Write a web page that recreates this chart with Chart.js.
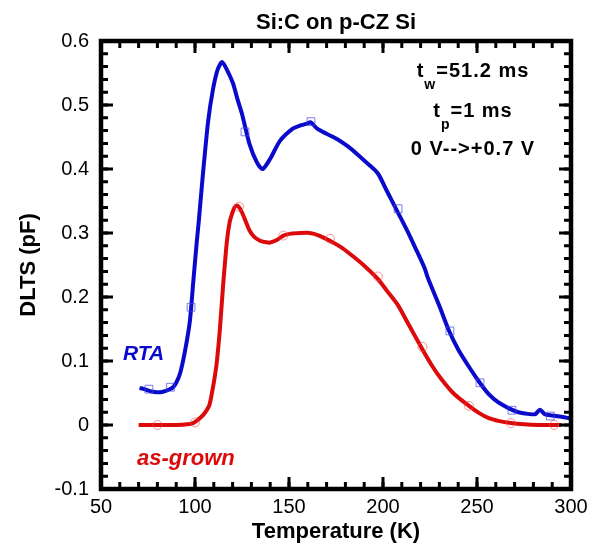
<!DOCTYPE html>
<html>
<head>
<meta charset="utf-8">
<script src="https://cdn.jsdelivr.net/npm/chart.js@4/dist/chart.umd.min.js"></script>
<style>
  html, body { margin: 0; padding: 0; background: #fff; }
  #wrap { width: 603px; height: 543px; }
</style>
</head>
<body>
<div id="wrap"><canvas id="dlts" width="603" height="543"></canvas></div>
<script>
// RTA sample, continuous scan (K, pF)
const rtaT = [70.5, 73, 76, 80, 83, 86, 88.3, 90, 92, 94.7, 97.3, 99, 101, 102, 104, 107, 109.6, 112, 114.4, 117,
  120.2, 122.5, 125, 129, 133, 136, 140, 145.2, 152, 156, 159.6, 161.5, 165, 170, 175.5, 181, 186, 192, 197.3,
  202, 207.4, 212.8, 217, 222, 224, 230, 235, 240, 245.7, 251, 256, 261, 267, 272, 278, 281, 283.5, 286, 290, 295, 300];
const rtaC = [0.058, 0.056, 0.053, 0.051, 0.052, 0.055, 0.059, 0.066, 0.080, 0.116, 0.163, 0.221, 0.288, 0.318, 0.385, 0.475, 0.525, 0.555, 0.567, 0.555,
  0.534, 0.510, 0.486, 0.439, 0.410, 0.400, 0.416, 0.444, 0.463, 0.468, 0.471, 0.473, 0.463, 0.455, 0.447, 0.436, 0.424, 0.408, 0.393,
  0.366, 0.335, 0.304, 0.278, 0.246, 0.229, 0.186, 0.148, 0.118, 0.091, 0.068, 0.049, 0.036, 0.026, 0.020, 0.017, 0.017, 0.024, 0.017, 0.015, 0.013, 0.010];

// as-grown sample, continuous scan (K, pF)
const grownT = [70, 75, 81, 90, 96, 99, 101, 102.7, 105, 107.5, 109, 110.5, 111.7, 113.3, 115, 117, 118.5, 119.7, 121, 122.3,
  123.5, 125, 127, 129, 131.5, 134.6, 137, 140, 143.5, 147, 151, 156, 161, 166, 171, 177, 183, 190, 197,
  202, 208, 214, 221, 226, 231, 238, 245.7, 251, 256, 262, 268, 275, 283, 290, 295];
const grownC = [0, 0, 0, 0, 0.001, 0.003, 0.007, 0.011, 0.018, 0.030, 0.050, 0.075, 0.101, 0.152, 0.220, 0.288, 0.318, 0.330, 0.340, 0.343,
  0.340, 0.332, 0.318, 0.304, 0.294, 0.288, 0.286, 0.285, 0.289, 0.296, 0.299, 0.300, 0.300, 0.296, 0.289, 0.279, 0.266, 0.249, 0.229,
  0.210, 0.187, 0.155, 0.118, 0.093, 0.072, 0.048, 0.030, 0.019, 0.011, 0.006, 0.003, 0.001, 0, 0, 0];

// sparse symbols on top of the curves
const rtaMarkT = [75.5, 87, 97.9, 126.6, 161.7, 208, 235.6, 251.6, 268.6, 289];
const rtaMarkC = [0.056, 0.059, 0.184, 0.458, 0.474, 0.338, 0.147, 0.066, 0.023, 0.014];
const grownMarkT = [80, 100, 123.4, 147, 171.8, 197.3, 221, 245.7, 268, 291];
const grownMarkC = [0, 0.004, 0.341, 0.296, 0.291, 0.232, 0.122, 0.030, 0.003, 0];

const xTicks = [50, 100, 150, 200, 250, 300];
const yTicks = [-0.1, 0, 0.1, 0.2, 0.3, 0.4, 0.5, 0.6];

const FONT = "'Liberation Sans', Arial, Helvetica, sans-serif";
const BLUE = '#0a0acc';
const RED = '#dc0a0a';

function pts(xs, ys) {
  return xs.map((x, i) => ({ x: x, y: ys[i] }));
}

// closed black frame with inward major / minor ticks on all four sides
const framePlugin = {
  id: 'frame',
  afterDatasetsDraw(chart) {
    const { ctx, chartArea: a, scales: { x, y } } = chart;
    ctx.save();
    ctx.strokeStyle = '#000';
    ctx.lineCap = 'butt';
    ctx.lineWidth = 3;
    const tick = (px, len, vertical) => {
      ctx.beginPath();
      if (vertical) {
        ctx.moveTo(px, a.bottom); ctx.lineTo(px, a.bottom - len);
        ctx.moveTo(px, a.top); ctx.lineTo(px, a.top + len);
      } else {
        ctx.moveTo(a.left, px); ctx.lineTo(a.left + len, px);
        ctx.moveTo(a.right, px); ctx.lineTo(a.right - len, px);
      }
      ctx.stroke();
    };
    for (let v = 50; v <= 300; v += 10) tick(x.getPixelForValue(v), 7, true);
    for (let k = -5; k <= 30; k++) tick(y.getPixelForValue(k * 0.02), 7, false);
    xTicks.forEach(v => tick(x.getPixelForValue(v), 12, true));
    yTicks.forEach(v => tick(y.getPixelForValue(v), 12, false));
    ctx.lineWidth = 4.5;
    ctx.strokeRect(a.left, a.top, a.right - a.left, a.bottom - a.top);
    ctx.restore();
  }
};

// in-plot labels
const notesPlugin = {
  id: 'notes',
  afterDraw(chart) {
    const { ctx, chartArea: a } = chart;
    ctx.save();
    ctx.fillStyle = '#000';
    ctx.textBaseline = 'alphabetic';
    ctx.textAlign = 'left';
    const big = 'bold 20px ' + FONT;
    const small = 'bold 14px ' + FONT;
    const cx = a.left + 372;
    const line = (parts, baseY) => {
      ctx.letterSpacing = '1px';
      let total = 0;
      parts.forEach(p => { ctx.font = p.sub ? small : big; total += ctx.measureText(p.t).width; });
      let px = cx - total / 2;
      parts.forEach(p => {
        ctx.font = p.sub ? small : big;
        ctx.fillText(p.t, px, baseY + (p.sub ? 12 : 0));
        px += ctx.measureText(p.t).width;
      });
    };
    line([{ t: 't' }, { t: 'w', sub: true }, { t: '=51.2 ms' }], a.top + 36);
    line([{ t: 't' }, { t: 'p', sub: true }, { t: '=1 ms' }], a.top + 76);
    line([{ t: '0 V-->+0.7 V' }], a.top + 114);

    ctx.letterSpacing = '0px';
    ctx.fillStyle = BLUE;
    ctx.font = 'italic bold 21px ' + FONT;
    ctx.fillText('RTA', a.left + 22, a.top + 319);
    ctx.fillStyle = RED;
    ctx.font = 'italic bold 22px ' + FONT;
    ctx.fillText('as-grown', a.left + 36, a.top + 424);
    ctx.restore();
  }
};

new Chart(document.getElementById('dlts'), {
  type: 'line',
  data: {
    datasets: [
      {
        label: 'RTA symbols', data: pts(rtaMarkT, rtaMarkC), showLine: false, order: 0,
        pointStyle: 'rect', pointRadius: 5.5, pointBorderWidth: 1,
        pointBorderColor: 'rgba(70,70,225,0.7)', pointBackgroundColor: 'rgba(0,0,0,0)'
      },
      {
        label: 'as-grown symbols', data: pts(grownMarkT, grownMarkC), showLine: false, order: 0,
        pointStyle: 'circle', pointRadius: 4.5, pointBorderWidth: 1,
        pointBorderColor: 'rgba(240,80,80,0.6)', pointBackgroundColor: 'rgba(0,0,0,0)'
      },
      {
        label: 'RTA', data: pts(rtaT, rtaC), order: 1,
        borderColor: BLUE, borderWidth: 4, pointRadius: 0, tension: 0.25, fill: false
      },
      {
        label: 'as-grown', data: pts(grownT, grownC), order: 1,
        borderColor: RED, borderWidth: 4, pointRadius: 0, tension: 0.25, fill: false
      }
    ]
  },
  options: {
    responsive: false,
    animation: false,
    layout: { padding: { left: 0, right: 32, top: 0, bottom: 0 } },
    plugins: {
      legend: { display: false },
      tooltip: { enabled: false },
      title: {
        display: true, text: 'Si:C on p-CZ Si', color: '#000', fullSize: false,
        font: { family: FONT, size: 22, weight: 'bold', lineHeight: 1.2 },
        padding: { top: 10, bottom: 4.6 }
      }
    },
    scales: {
      x: {
        type: 'linear', min: 50, max: 300,
        afterBuildTicks: s => { s.ticks = xTicks.map(v => ({ value: v })); },
        afterFit: s => { s.height = 54; },
        grid: { display: false, drawTicks: false },
        border: { display: false },
        ticks: {
          color: '#000', padding: 8, maxRotation: 0, autoSkip: false,
          font: { family: FONT, size: 20, lineHeight: 1 },
          callback: v => String(v)
        },
        title: {
          display: true, text: 'Temperature (K)', color: '#000',
          font: { family: FONT, size: 22, weight: 'bold', lineHeight: 1 },
          padding: { top: 0, bottom: 0 }
        }
      },
      y: {
        type: 'linear', min: -0.1, max: 0.6,
        afterBuildTicks: s => { s.ticks = yTicks.map(v => ({ value: v })); },
        afterFit: s => { s.width = 101; },
        grid: { display: false, drawTicks: false },
        border: { display: false },
        ticks: {
          color: '#000', padding: 12, autoSkip: false,
          font: { family: FONT, size: 20, lineHeight: 1 },
          callback: v => String(v)
        },
        title: {
          display: true, text: 'DLTS (pF)', color: '#000',
          font: { family: FONT, size: 22, weight: 'bold', lineHeight: 1 },
          padding: { top: 18, bottom: 0 }
        }
      }
    }
  },
  plugins: [framePlugin, notesPlugin]
});
</script>
</body>
</html>
